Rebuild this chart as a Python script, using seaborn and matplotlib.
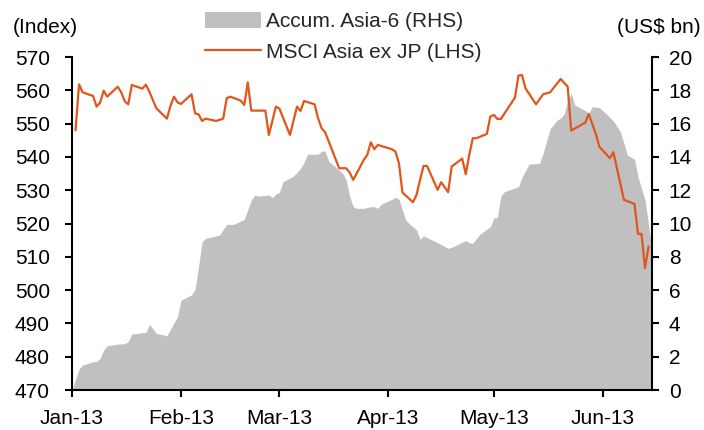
import pandas as pd
import matplotlib
matplotlib.use("Agg")
import matplotlib.pyplot as plt
import matplotlib.dates as mdates
from matplotlib.patches import Patch
from matplotlib.lines import Line2D
import seaborn as sns

# MSCI Asia ex JP index level (LHS)
msci_dates = [
    "2013-01-02", "2013-01-03", "2013-01-04", "2013-01-07", "2013-01-08", "2013-01-09",
    "2013-01-10", "2013-01-11", "2013-01-14", "2013-01-15", "2013-01-16", "2013-01-17",
    "2013-01-18", "2013-01-21", "2013-01-22", "2013-01-23", "2013-01-25", "2013-01-28",
    "2013-01-29", "2013-01-30", "2013-01-31", "2013-02-01", "2013-02-04", "2013-02-05",
    "2013-02-06", "2013-02-07", "2013-02-08", "2013-02-11", "2013-02-13", "2013-02-14",
    "2013-02-15", "2013-02-18", "2013-02-19", "2013-02-20", "2013-02-21", "2013-02-25",
    "2013-02-26", "2013-02-28", "2013-03-01", "2013-03-04", "2013-03-06", "2013-03-07",
    "2013-03-08", "2013-03-11", "2013-03-12", "2013-03-13", "2013-03-14", "2013-03-18",
    "2013-03-20", "2013-03-21", "2013-03-22", "2013-03-25", "2013-03-26", "2013-03-27",
    "2013-03-28", "2013-03-29", "2013-04-02", "2013-04-03", "2013-04-04", "2013-04-05",
    "2013-04-08", "2013-04-09", "2013-04-10", "2013-04-11", "2013-04-12", "2013-04-15",
    "2013-04-16", "2013-04-18", "2013-04-19", "2013-04-22", "2013-04-23", "2013-04-24",
    "2013-04-25", "2013-04-26", "2013-04-29", "2013-04-30", "2013-05-01", "2013-05-02",
    "2013-05-03", "2013-05-07", "2013-05-08", "2013-05-09", "2013-05-10", "2013-05-13",
    "2013-05-15", "2013-05-17", "2013-05-20", "2013-05-22", "2013-05-23", "2013-05-27",
    "2013-05-28", "2013-05-30", "2013-05-31", "2013-06-03", "2013-06-04", "2013-06-07",
    "2013-06-10", "2013-06-11", "2013-06-12", "2013-06-13", "2013-06-14",
]
msci_values = [
    548.0, 561.8, 559.4, 558.3, 555.1, 556.3,
    559.9, 558.1, 561.1, 559.4, 556.7, 555.8,
    561.6, 560.5, 561.7, 559.6, 554.6, 551.5,
    555.3, 558.1, 556.4, 555.9, 558.8, 553.1,
    552.8, 550.8, 551.5, 550.8, 551.5, 557.6,
    558.1, 556.9, 555.6, 562.4, 553.9, 553.9,
    546.6, 555.1, 554.5, 546.6, 555.1, 553.8,
    556.8, 555.8, 551.6, 548.6, 547.4, 536.6,
    536.6, 535.3, 533.1, 539.1, 540.6, 544.4,
    542.3, 543.6, 542.3, 541.6, 538.1, 529.3,
    526.4, 528.6, 533.1, 537.3, 537.3, 530.1,
    532.4, 529.4, 537.1, 539.5, 534.8, 540.6,
    545.6, 545.6, 546.9, 552.1, 552.6, 551.4,
    551.4, 557.8, 564.4, 564.6, 560.6, 555.8,
    558.8, 559.4, 563.4, 561.1, 547.9, 550.3,
    552.9, 546.9, 543.1, 539.6, 541.4, 527.1,
    525.9, 516.9, 516.9, 506.6, 513.1,
]

# Accumulated Asia-6 foreign flows, US$ bn (RHS)
flow_dates = [
    "2013-01-01", "2013-01-03", "2013-01-04", "2013-01-07", "2013-01-08", "2013-01-09",
    "2013-01-10", "2013-01-11", "2013-01-14", "2013-01-16", "2013-01-17", "2013-01-18",
    "2013-01-21", "2013-01-22", "2013-01-23", "2013-01-25", "2013-01-28", "2013-01-31",
    "2013-02-01", "2013-02-04", "2013-02-05", "2013-02-06", "2013-02-07", "2013-02-08",
    "2013-02-12", "2013-02-14", "2013-02-16", "2013-02-19", "2013-02-21", "2013-02-22",
    "2013-02-23", "2013-02-26", "2013-02-27", "2013-02-28", "2013-03-01", "2013-03-02",
    "2013-03-05", "2013-03-07", "2013-03-08", "2013-03-09", "2013-03-12", "2013-03-13",
    "2013-03-14", "2013-03-15", "2013-03-19", "2013-03-20", "2013-03-21", "2013-03-22",
    "2013-03-23", "2013-03-25", "2013-03-27", "2013-03-28", "2013-03-29", "2013-03-30",
    "2013-04-01", "2013-04-03", "2013-04-04", "2013-04-06", "2013-04-09", "2013-04-10",
    "2013-04-11", "2013-04-15", "2013-04-18", "2013-04-19", "2013-04-23", "2013-04-24",
    "2013-04-25", "2013-04-27", "2013-04-30", "2013-05-01", "2013-05-02", "2013-05-03",
    "2013-05-04", "2013-05-08", "2013-05-09", "2013-05-11", "2013-05-14", "2013-05-15",
    "2013-05-17", "2013-05-19", "2013-05-20", "2013-05-21", "2013-05-22", "2013-05-23",
    "2013-05-24", "2013-05-27", "2013-05-28", "2013-05-29", "2013-05-31", "2013-06-02",
    "2013-06-04", "2013-06-06", "2013-06-08", "2013-06-10", "2013-06-11", "2013-06-13",
    "2013-06-14", "2013-06-15",
]
flow_values = [
    0.00, 1.26, 1.50, 1.70, 1.72, 1.90,
    2.40, 2.66, 2.76, 2.78, 2.90, 3.36,
    3.44, 3.46, 3.94, 3.40, 3.26, 4.40,
    5.40, 5.71, 6.05, 7.40, 8.91, 9.11,
    9.31, 9.95, 9.95, 10.25, 11.41, 11.71,
    11.65, 11.71, 11.55, 11.77, 11.87, 12.51,
    12.85, 13.31, 13.67, 14.16, 14.16, 14.35,
    14.35, 13.75, 13.01, 12.61, 11.61, 11.01,
    10.91, 10.91, 11.01, 11.01, 10.91, 11.17,
    11.35, 11.57, 11.45, 10.17, 9.61, 9.05,
    9.25, 8.85, 8.51, 8.57, 8.97, 8.85,
    8.81, 9.35, 9.81, 10.35, 10.35, 11.65,
    11.91, 12.21, 12.77, 13.57, 13.61, 14.21,
    15.68, 16.22, 16.32, 16.58, 17.42, 17.80,
    17.12, 16.78, 16.62, 17.02, 16.96, 16.58,
    16.16, 15.51, 14.11, 13.86, 12.81, 11.41,
    9.91, 8.50,
]

month_ticks = ["2013-01-01", "2013-02-01", "2013-03-01", "2013-04-01", "2013-05-01", "2013-06-01"]

msci = pd.DataFrame({"date": pd.to_datetime(msci_dates), "value": msci_values})
flows = pd.DataFrame({"date": pd.to_datetime(flow_dates), "value": flow_values})

LINE_COLOR = "#E0561B"
AREA_COLOR = "#C0C0C0"
FS = 15

sns.set_theme(style="white")
plt.rcParams["font.family"] = ["Liberation Sans", "DejaVu Sans"]
plt.rcParams["axes.unicode_minus"] = False

fig = plt.figure(figsize=(7.04, 4.30), dpi=100)
ax = fig.add_axes([0.1023, 0.093, 0.8239, 0.7744])
ax2 = ax.twinx()

# area on the RHS axis, drawn behind the index line
ax2.fill_between(flows["date"], 0, flows["value"], color=AREA_COLOR, linewidth=0)
sns.lineplot(data=msci, x="date", y="value", ax=ax, color=LINE_COLOR, linewidth=1.6)
ax.set_zorder(ax2.get_zorder() + 1)
ax.patch.set_visible(False)

ax.set_ylim(470, 570)
ax.set_yticks(range(470, 571, 10))
ax2.set_ylim(0, 20)
ax2.set_yticks(range(0, 21, 2))
ax.set_xlim(pd.Timestamp("2013-01-01"), pd.Timestamp("2013-06-15"))
ax.set_xticks(pd.to_datetime(month_ticks))
ax.xaxis.set_major_formatter(mdates.DateFormatter("%b-%y"))
ax.set_xlabel("")
ax.set_ylabel("")
ax2.set_ylabel("")

for a in (ax, ax2):
    a.spines["top"].set_visible(False)
    for s in ("left", "right", "bottom"):
        a.spines[s].set_color("black")
        a.spines[s].set_linewidth(1.5)
    a.grid(False)
ax.spines["right"].set_visible(False)
ax2.spines["left"].set_visible(False)
ax2.spines["bottom"].set_visible(False)

ax.tick_params(axis="y", which="major", left=True, direction="out", length=5,
               width=1.5, color="black", labelsize=FS, labelcolor="black", pad=11)
ax.tick_params(axis="x", which="major", bottom=True, direction="out", length=5,
               width=1.5, color="black", labelsize=FS, labelcolor="black", pad=9)
ax2.tick_params(axis="y", which="major", right=True, direction="out", length=5,
                width=1.5, color="black", labelsize=FS, labelcolor="black", pad=7)

fig.text(0.018, 0.936, "(Index)", fontsize=FS, color="black", ha="left", va="center")
fig.text(0.995, 0.936, "(US$ bn)", fontsize=FS, color="black", ha="right", va="center")

handles = [
    Patch(facecolor=AREA_COLOR, edgecolor="none", label="Accum. Asia-6 (RHS)"),
    Line2D([0], [0], color=LINE_COLOR, linewidth=1.6, label="MSCI Asia ex JP (LHS)"),
]
fig.legend(handles=handles, loc="upper left", bbox_to_anchor=(0.288, 0.977),
           frameon=False, fontsize=FS, handlelength=2.7, handleheight=0.8,
           handletextpad=0.25, labelspacing=0.54, borderpad=0.1, borderaxespad=0)

fig.savefig("out.png", dpi=100)
